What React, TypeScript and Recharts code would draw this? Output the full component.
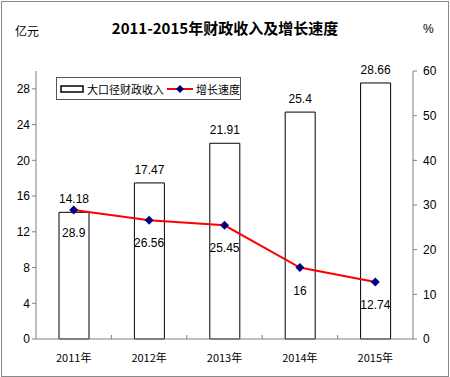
import React from "react";
import {
  ComposedChart,
  Bar,
  Line,
  XAxis,
  YAxis,
  LabelList,
} from "recharts";

const YEARS = ["2011年", "2012年", "2013年", "2014年", "2015年"];
const REVENUE = [14.18, 17.47, 21.91, 25.4, 28.66];
const GROWTH = [28.9, 26.56, 25.45, 16, 12.74];
const LEFT_TICKS = [0, 4, 8, 12, 16, 20, 24, 28];
const RIGHT_TICKS = [0, 10, 20, 30, 40, 50, 60];

const data = YEARS.map((year, i) => ({
  year,
  revenue: REVENUE[i],
  growth: GROWTH[i],
}));

const NUM_FONT = "'Liberation Sans', Arial, sans-serif";
const CJK_FONT = "'Noto Sans CJK SC', sans-serif";

// plot area spans 36..413, so each category band is 377 / 5 wide
const BAND = 377 / YEARS.length;

function Diamond(props: any) {
  const { cx, cy } = props;
  if (cx == null || cy == null) return null;
  const r = 4.5;
  return (
    <path
      d={`M${cx},${cy - r}L${cx + r},${cy}L${cx},${cy + r}L${cx - r},${cy}Z`}
      fill="#000080"
    />
  );
}

function GrowthLabel(props: any) {
  const { x, y, value } = props;
  return (
    <text
      x={x}
      y={y + 27}
      textAnchor="middle"
      fontSize={12}
      fontFamily={NUM_FONT}
      fill="#000"
    >
      {value}
    </text>
  );
}

// tick y arrives as axis y + tickSize(6) + tickMargin(2)
function YearTick(props: any) {
  const { x, y, payload, index } = props;
  const bx = x + BAND / 2;
  return (
    <g>
      {index < YEARS.length - 1 && (
        <line x1={bx} y1={y - 12} x2={bx} y2={y - 8} stroke="#808080" />
      )}
      <text
        x={x}
        y={y + 15}
        textAnchor="middle"
        fontSize={11}
        fontFamily={CJK_FONT}
        fill="#000"
      >
        {payload.value}
      </text>
    </g>
  );
}

function LegendBox() {
  return (
    <div
      style={{
        position: "absolute",
        left: 56,
        top: 77,
        border: "1px solid #555",
        background: "#fff",
        width: 185,
        height: 23,
        display: "flex",
        alignItems: "center",
        fontFamily: CJK_FONT,
        fontSize: 11,
        color: "#000",
        boxSizing: "border-box",
        paddingLeft: 3,
        whiteSpace: "nowrap",
      }}
    >
      <svg width={24} height={10}>
        <rect x={1} y={2} width={22} height={6} fill="#fff" stroke="#000" strokeWidth={1.5} />
      </svg>
      <span style={{ marginLeft: 3 }}>大口径财政收入</span>
      <svg width={26} height={10} style={{ marginLeft: 3 }}>
        <line x1={0} y1={5} x2={26} y2={5} stroke="#ff0000" strokeWidth={2} />
        <path d="M13,1L17,5L13,9L9,5Z" fill="#000080" />
      </svg>
      <span style={{ marginLeft: 3 }}>增长速度</span>
    </div>
  );
}

export default function App() {
  return (
    <div
      style={{
        position: "absolute",
        left: 0,
        top: 0,
        width: 450,
        height: 377,
        background: "#fff",
      }}
    >
      <div
        style={{
          position: "absolute",
          left: 1,
          top: 1,
          width: 446,
          height: 374,
          border: "1px solid #888",
        }}
      />
      <div
        style={{
          position: "absolute",
          left: 0,
          width: 450,
          top: 17,
          textAlign: "center",
          fontFamily: CJK_FONT,
          fontWeight: "bold",
          fontSize: 15,
          color: "#000",
        }}
      >
        2011-2015年财政收入及增长速度
      </div>
      <div
        style={{
          position: "absolute",
          left: 15,
          top: 22,
          fontFamily: CJK_FONT,
          fontSize: 12,
          color: "#000",
        }}
      >
        亿元
      </div>
      <div
        style={{
          position: "absolute",
          left: 423,
          top: 22,
          fontFamily: NUM_FONT,
          fontSize: 12,
          color: "#000",
        }}
      >
        %
      </div>
      <div style={{ position: "absolute", left: 0, top: 0 }}>
        <ComposedChart
          width={450}
          height={377}
          data={data}
          margin={{ top: 71, right: 0, bottom: 8, left: 0 }}
        >
          <XAxis
            dataKey="year"
            height={30}
            axisLine={{ stroke: "#808080" }}
            tickLine={false}
            tick={<YearTick />}
            interval={0}
          />
          <YAxis
            yAxisId="left"
            domain={[0, 30]}
            ticks={LEFT_TICKS}
            width={36}
            axisLine={{ stroke: "#808080" }}
            tickLine={{ stroke: "#808080" }}
            tickSize={4}
            tick={{ fontSize: 12, fontFamily: NUM_FONT, fill: "#000" }}
            interval={0}
          />
          <YAxis
            yAxisId="right"
            orientation="right"
            domain={[0, 60]}
            ticks={RIGHT_TICKS}
            width={37}
            axisLine={{ stroke: "#808080" }}
            tickLine={{ stroke: "#808080" }}
            tickSize={4}
            tickMargin={6}
            tick={{ fontSize: 12, fontFamily: NUM_FONT, fill: "#000" }}
            interval={0}
          />
          <Bar
            yAxisId="left"
            dataKey="revenue"
            name="大口径财政收入"
            barSize={30}
            fill="#fff"
            stroke="#000"
            strokeWidth={1}
            isAnimationActive={false}
          >
            <LabelList
              dataKey="revenue"
              position="top"
              offset={9}
              style={{ fontSize: 12, fontFamily: NUM_FONT, fill: "#000" }}
            />
          </Bar>
          <Line
            yAxisId="right"
            dataKey="growth"
            name="增长速度"
            stroke="#ff0000"
            strokeWidth={2}
            dot={<Diamond />}
            activeDot={false}
            isAnimationActive={false}
          >
            <LabelList dataKey="growth" content={<GrowthLabel />} />
          </Line>
        </ComposedChart>
      </div>
      <LegendBox />
    </div>
  );
}
